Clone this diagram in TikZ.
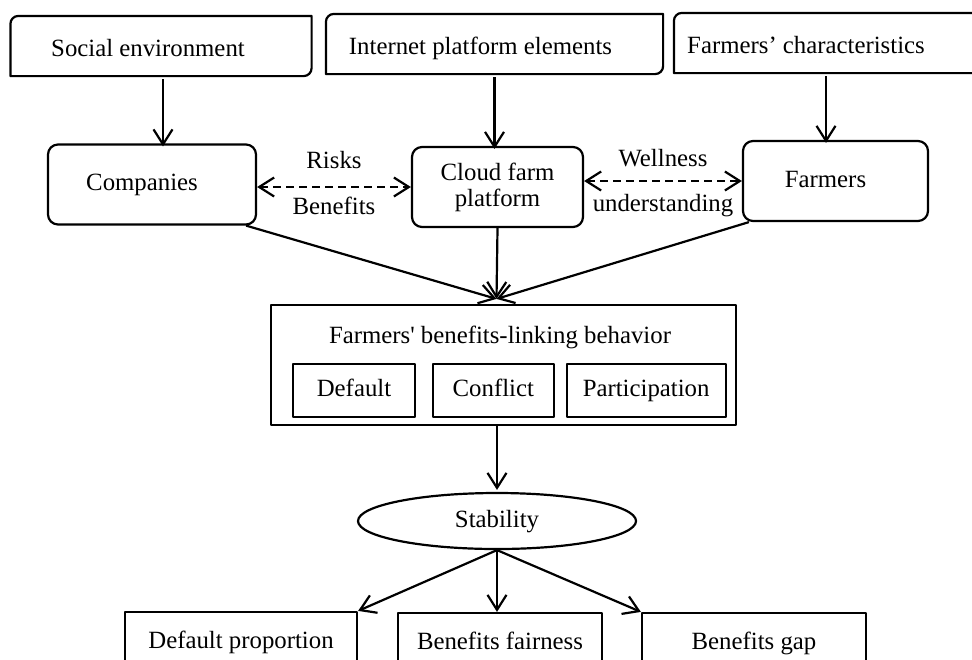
\documentclass[tikz,border=0pt]{standalone}
\usepackage{fontspec}
\setmainfont{Liberation Serif}
\usetikzlibrary{arrows.meta,positioning,shapes.geometric}
\tikzset{
    flow/.style={>={Straight Barb[length=7.5pt,width=9.5pt]},line width=1.1pt,
                 line join=round,x=0.5pt,y=-0.5pt,font=\fontsize{12.4}{13}\selectfont},
    tx/.style={text height=8.6pt,text depth=2.6pt},
    factor/.style={text height=10.6pt,text depth=0.6pt,minimum height=29pt,inner sep=0pt},
    actor/.style={draw,rounded corners=5pt,minimum height=40pt,inner sep=0pt,align=center},
    frame/.style={draw,minimum height=60pt,inner sep=0pt},
    mode/.style={tx,draw,line width=0.9pt,minimum height=26.5pt,inner sep=0pt},
    stab/.style={tx,draw,ellipse,minimum width=139pt,minimum height=28pt,inner sep=0pt},
    outcome/.style={tx,draw,minimum height=30pt,inner sep=0pt},
    link/.style={<->,dash pattern=on 4pt off 2.5pt},
    }

\begin{document}
\begin{tikzpicture}[flow]
    \useasboundingbox (0,0) rectangle (972,659);
    \clip (0,0) rectangle (972,659);

    % influencing factors
    \node[factor,minimum width=149.5pt] (se) at (161,46) {Social environment\hspace*{13pt}};
    \node[factor,minimum width=167.5pt] (ip) at (494.5,44) {Internet platform elements\hspace*{14pt}};
    \node[factor,minimum width=155pt] (fc) at (830,43) {Farmers’ characteristics\hspace*{24pt}};
    \foreach \n in {se,ip,fc}
        \draw (\n.north east) -- ([xshift=4pt]\n.north west)
              arc[start angle=90,end angle=180,radius=4pt] -- (\n.south west)
              -- ([xshift=-4pt]\n.south east)
              arc[start angle=270,end angle=360,radius=4pt] -- cycle;

    % actors
    \node[actor,tx,minimum width=104pt] (co) at (152,184.5) {Companies\hspace*{10pt}};
    \node[actor,minimum width=85.5pt] (cf) at (497.5,187) {Cloud farm\\platform};
    \node[actor,tx,minimum width=92.5pt] (fa) at (835.5,181) {Farmers\hspace*{10pt}};

    % behaviour
    \node[frame,minimum width=232.5pt] (bh) at (503.5,365) {};
    \node[tx] (bt) at (500,337) {Farmers\textquotesingle{} benefits-linking behavior};
    \node[mode,minimum width=61pt] (df) at (354,390.5) {Default};
    \node[mode,minimum width=60.5pt,right=8pt of df] (cn) {Conflict};
    \node[mode,minimum width=79.5pt,right=5.5pt of cn] (pa) {Participation};

    % stability
    \node[stab] (st) at (497,521) {Stability};
    \node[outcome,minimum width=116pt] (dp) at (241,642) {Default proportion};
    \node[outcome,minimum width=102pt] (bf) at (500,643) {Benefits fairness};
    \node[outcome,minimum width=112pt] (bg) at (754,643) {Benefits gap};

    \coordinate (in) at ([xshift=-3.5pt,yshift=2.5pt]bh.north);

    \path[->] ([xshift=1pt,yshift=-1.5pt]se.south) edge[] ([xshift=1pt,yshift=-1.5pt]se.south |- co.north);
    \path[->] ([yshift=-1.5pt]ip.south) edge[] ([yshift=-1.5pt]ip.south |- cf.north);
    \path[->] ([xshift=-2pt,yshift=-1.5pt]fc.south) edge[] ([xshift=-2pt,yshift=-1.5pt]fc.south |- fa.north);

    \path[link] (co.east |- cf.west) edge node[tx,above=3pt] {Risks} node[tx,below=1.5pt] {Benefits} (cf.west);
    \path[link] (cf.east |- fa.west) edge node[tx,above=1pt] {Wellness} node[tx,below=3pt] {understanding} (fa.west);

    \path[->] ([xshift=-5.5pt]co.south east) edge[] (in);
    \path[->] (cf.south) edge[] (in);
    \path[->] ([xshift=3.5pt]fa.south west) edge[] (in);

    \path[->] (st.north |- bh.south) edge[] ([yshift=1pt]st.north);
    \path[->] (st.south) edge[] (dp.north east);
    \path[->] (st.south) edge[] (st.south |- bf.north);
    \path[->] (st.south) edge[] (bg.north west);
\end{tikzpicture}
\end{document}
